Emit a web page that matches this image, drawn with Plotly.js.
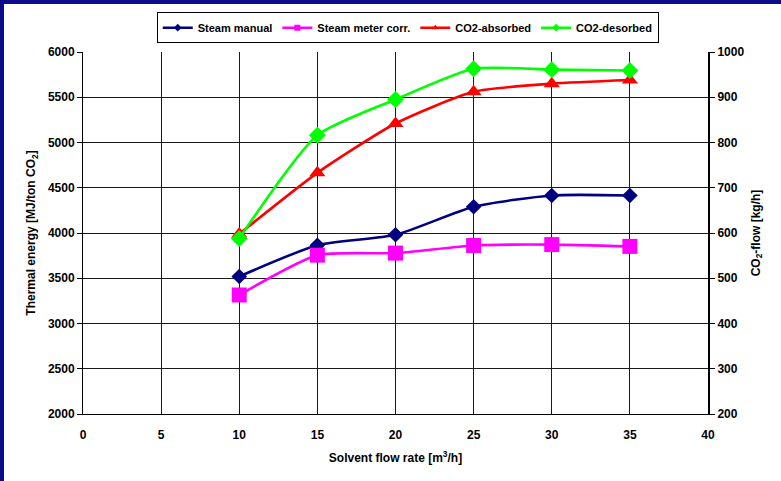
<!DOCTYPE html>
<html>
<head>
<meta charset="utf-8">
<script src="https://cdn.plot.ly/plotly-3.0.1.min.js"></script>
<style>
  html, body { margin: 0; padding: 0; background: #ffffff; }
  #wrap { position: relative; width: 781px; height: 481px; overflow: hidden; }
  #chart { position: absolute; left: 0; top: 0; width: 781px; height: 481px; }
  .frame { position: absolute; background: #0c0c8a; z-index: 10; }
</style>
</head>
<body>
<div id="wrap">
  <div id="chart"></div>
  <div class="frame" style="left:0;top:0;width:781px;height:4px;"></div>
  <div class="frame" style="left:0;top:0;width:4px;height:481px;"></div>
</div>
<script>
// Solvent flow rate [m3/h]
const solventFlow = [10, 15, 20, 25, 30, 35];
// Thermal energy [MJ/ton CO2] (left axis)
const steamManual = [3520, 3865, 3980, 4290, 4415, 4415];
const steamMeterCorr = [3315, 3755, 3778, 3862, 3872, 3852];
// CO2 flow [kg/h] (right axis)
const co2Absorbed = [598, 733, 842, 912, 930, 938];
const co2Desorbed = [588, 816, 895, 963, 961, 959];

const seriesNames = ["Steam manual", "Steam meter corr.", "CO2-absorbed", "CO2-desorbed"];
const seriesColors = ["#000080", "#ff00ff", "#ff0000", "#00ff00"];
const seriesSymbols = ["diamond", "square", "triangle-up", "diamond"];
const seriesSizes = [12, 15, 14, 13];
const seriesValues = [steamManual, steamMeterCorr, co2Absorbed, co2Desorbed];
const seriesAxis = ["y", "y", "y2", "y2"];

const font = "Liberation Sans, Arial, sans-serif";

const traces = [];
for (let i = 0; i < 4; i++) {
  traces.push({
    x: solventFlow,
    y: seriesValues[i],
    yaxis: seriesAxis[i],
    type: "scatter",
    mode: "lines+markers",
    name: seriesNames[i],
    showlegend: false,
    line: { color: seriesColors[i], width: 2.6, shape: "spline", smoothing: 0.6 },
    marker: { color: seriesColors[i], symbol: seriesSymbols[i], size: seriesSizes[i] },
    cliponaxis: false
  });
}
// legend entries with small markers
for (let i = 0; i < 4; i++) {
  traces.push({
    x: [null],
    y: [null],
    yaxis: seriesAxis[i],
    type: "scatter",
    mode: "lines+markers",
    name: seriesNames[i],
    showlegend: true,
    line: { color: seriesColors[i], width: 2.6 },
    marker: { color: seriesColors[i], symbol: seriesSymbols[i], size: 6 }
  });
}

const layout = {
  width: 781,
  height: 481,
  margin: { l: 83, r: 73, t: 49, b: 67, pad: 0 },
  paper_bgcolor: "#ffffff",
  plot_bgcolor: "#ffffff",
  font: { family: font, size: 12, color: "#000000", weight: "bold" },
  showlegend: true,
  legend: {
    orientation: "h",
    x: 0.118,
    xanchor: "left",
    y: 1.11,
    yanchor: "top",
    bgcolor: "#ffffff",
    bordercolor: "#000000",
    borderwidth: 1,
    font: { family: font, size: 11, color: "#000000", weight: "bold" },
    itemwidth: 30,
    traceorder: "normal"
  },
  xaxis: {
    range: [0, 40],
    dtick: 5,
    tick0: 0,
    showgrid: true,
    gridcolor: "#1a1a1a",
    gridwidth: 1,
    zeroline: false,
    showline: true,
    linecolor: "#000000",
    linewidth: 1,
    ticks: "",
    ticklabelstandoff: 10,
    tickfont: { family: font, size: 12, weight: "bold" },
    title: { text: "Solvent flow rate [m<sup>3</sup>/h]", font: { family: font, size: 12, weight: "bold" }, standoff: 12 },
    fixedrange: true
  },
  yaxis: {
    range: [2000, 6000],
    dtick: 500,
    tick0: 2000,
    showgrid: true,
    gridcolor: "#1a1a1a",
    gridwidth: 1,
    zeroline: false,
    showline: true,
    linecolor: "#000000",
    linewidth: 1,
    ticks: "outside",
    ticklen: 5,
    tickcolor: "#000000",
    tickfont: { family: font, size: 12, weight: "bold" },
    title: { text: "Thermal energy [MJ/ton CO<sub>2</sub>]", font: { family: font, size: 12, weight: "bold" }, standoff: 9 },
    fixedrange: true
  },
  yaxis2: {
    range: [200, 1000],
    dtick: 100,
    tick0: 200,
    overlaying: "y",
    side: "right",
    showgrid: false,
    zeroline: false,
    showline: true,
    linecolor: "#000000",
    linewidth: 2,
    ticks: "outside",
    ticklen: 5,
    tickcolor: "#000000",
    tickfont: { family: font, size: 12, weight: "bold" },
    title: { text: "CO<sub>2</sub>-flow [kg/h]", font: { family: font, size: 12, weight: "bold" }, standoff: 8 },
    fixedrange: true
  }
};

Plotly.newPlot("chart", traces, layout, { displayModeBar: false, staticPlot: true });
</script>
</body>
</html>
